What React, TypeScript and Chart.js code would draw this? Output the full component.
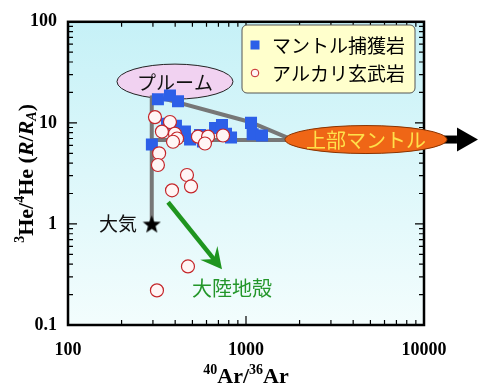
import React, { useEffect, useRef } from 'react';
import { Chart, registerables } from 'chart.js';
Chart.register(...registerables);

// ---------- data ----------
const xTickValues = [100, 1000, 10000];
const yTickValues = [0.1, 1, 10, 100];

// マントル捕獲岩 (mantle xenoliths)
const xenolithAr = [320, 374, 415, 296, 360, 404, 454, 485, 552, 573, 670, 733, 772, 824, 1067, 1090, 1230];
const xenolithHe = [17.1, 18.7, 16.4, 6.1, 9.8, 9.35, 8.2, 6.85, 7.6, 6.55, 8.9, 9.55, 7.8, 7.15, 10.0, 7.7, 7.5];

// アルカリ玄武岩 (alkali basalts)
const basaltAr = [308, 374, 337, 399, 410, 389, 537, 612, 588, 743, 325, 320, 466, 491, 384, 472, 316];
const basaltHe = [11.4, 10.2, 8.2, 7.8, 7.0, 6.5, 7.3, 7.3, 6.25, 7.5, 5.0, 3.83, 3.05, 2.35, 2.15, 0.38, 0.22];

// 大気 (atmosphere)
const atmosphereAr = [295.5];
const atmosphereHe = [1];

// mixing lines
const plumeAtmLineAr = [295.5, 295.5];
const plumeAtmLineHe = [1, 18.7];
const plumeMantleLineAr = [295.5, 1053, 1720];
const plumeMantleLineHe = [18.7, 10.2, 7.1];
const atmMantleLineAr = [295.5, 1720];
const atmMantleLineHe = [6.76, 6.76];

// text labels
const legendLabels = ['マントル捕獲岩', 'アルカリ玄武岩'];
const plumeLabel = 'プルーム';
const upperMantleLabel = '上部マントル';
const atmosphereLabel = '大気';
const crustLabel = '大陸地殻';

// annotation anchors (data coordinates)
const plumeCenter = [399, 25.6];
const upperMantleCenter = [4721, 6.84];
const arrowTip = [20100, 6.84];
const atmosphereTextPos = [244, 1];
const crustTextPos = [834, 0.229];
const crustArrowFrom = [365, 1.64];
const crustArrowTo = [733, 0.357];

const zip = (xs: number[], ys: number[]) => xs.map((x, i) => ({ x, y: ys[i] }));

const SERIF = '"Liberation Serif", "Times New Roman", serif';
const CJK = '"Noto Sans CJK JP", "Noto Sans", sans-serif';

function makeStar(size: number, color: string) {
  const c = document.createElement('canvas');
  c.width = size;
  c.height = size;
  const g = c.getContext('2d')!;
  const cx = size / 2, cy = size / 2 + size * 0.05, R = size / 2, r = R * 0.42;
  g.beginPath();
  for (let i = 0; i < 10; i++) {
    const a = -Math.PI / 2 + (i * Math.PI) / 5;
    const rad = i % 2 ? r : R;
    g.lineTo(cx + rad * Math.cos(a), cy + rad * Math.sin(a));
  }
  g.closePath();
  g.fillStyle = color;
  g.fill();
  return c;
}

type Run = { t: string; size: number; italic?: boolean; dy?: number };
function drawRuns(ctx: CanvasRenderingContext2D, runs: Run[], cx: number, baseline: number) {
  const fontOf = (r: Run) => `${r.italic ? 'italic ' : ''}bold ${r.size}px ${SERIF}`;
  let total = 0;
  for (const r of runs) { ctx.font = fontOf(r); total += ctx.measureText(r.t).width; }
  let x = cx - total / 2;
  ctx.textAlign = 'left';
  ctx.textBaseline = 'alphabetic';
  for (const r of runs) {
    ctx.font = fontOf(r);
    ctx.fillText(r.t, x, baseline + (r.dy || 0));
    x += ctx.measureText(r.t).width;
  }
}

const decorPlugin = {
  id: 'decor',
  beforeDraw(chart: any) {
    const { ctx, chartArea: a } = chart;
    ctx.save();
    ctx.fillStyle = '#ffffff';
    ctx.fillRect(0, 0, chart.width, chart.height);
    const g = ctx.createLinearGradient(0, a.top, 0, a.bottom);
    g.addColorStop(0, '#c6f1f7');
    g.addColorStop(1, '#f3fdfd');
    ctx.fillStyle = g;
    ctx.fillRect(a.left, a.top, a.right - a.left, a.bottom - a.top);
    ctx.restore();
  },
  beforeDatasetsDraw(chart: any) {
    const { ctx, chartArea: a, scales } = chart;
    const xs = scales.x, ys = scales.y;
    ctx.save();
    // plume ellipse
    const px = xs.getPixelForValue(plumeCenter[0]);
    const py = ys.getPixelForValue(plumeCenter[1]);
    ctx.beginPath();
    ctx.ellipse(px, py, 58, 17.5, 0, 0, Math.PI * 2);
    ctx.fillStyle = '#f1d2f1';
    ctx.fill();
    ctx.lineWidth = 1;
    ctx.strokeStyle = '#222';
    ctx.stroke();
    ctx.fillStyle = '#111';
    ctx.font = `19px ${CJK}`;
    ctx.textAlign = 'center';
    ctx.textBaseline = 'middle';
    ctx.fillText(plumeLabel, px, py + 1);

    // ticks (inward) on all 4 sides
    ctx.strokeStyle = '#000';
    ctx.lineWidth = 1.2;
    const minorLen = 5, majorLen = 9;
    const xMinor: number[] = [];
    for (const d of [100, 1000]) for (let k = 2; k <= 9; k++) xMinor.push(d * k);
    const yMinor: number[] = [];
    for (const d of [0.1, 1, 10]) for (let k = 2; k <= 9; k++) yMinor.push(+(d * k).toFixed(2));
    ctx.beginPath();
    const xTicks = [...xMinor.map((v) => [v, minorLen]), [1000, majorLen]];
    for (const [v, len] of xTicks) {
      const x = xs.getPixelForValue(v);
      ctx.moveTo(x, a.bottom); ctx.lineTo(x, a.bottom - len);
      ctx.moveTo(x, a.top); ctx.lineTo(x, a.top + len);
    }
    const yTicks = [...yMinor.map((v) => [v, minorLen]), [1, majorLen], [10, majorLen]];
    for (const [v, len] of yTicks) {
      const y = ys.getPixelForValue(v);
      ctx.moveTo(a.left, y); ctx.lineTo(a.left + len, y);
      ctx.moveTo(a.right, y); ctx.lineTo(a.right - len, y);
    }
    ctx.stroke();
    // frame
    ctx.lineWidth = 2.5;
    ctx.strokeRect(a.left, a.top, a.right - a.left, a.bottom - a.top);
    ctx.restore();
  },
  afterDatasetsDraw(chart: any) {
    const { ctx, chartArea: a, scales } = chart;
    const xs = scales.x, ys = scales.y;
    ctx.save();
    // upper mantle ellipse + black arrow
    const ux = xs.getPixelForValue(upperMantleCenter[0]);
    const uy = ys.getPixelForValue(upperMantleCenter[1]);
    const tipX = xs.getPixelForValue(arrowTip[0]);
    const tipY = ys.getPixelForValue(arrowTip[1]);
    ctx.fillStyle = '#000';
    ctx.fillRect(ux + 70, tipY - 4, tipX - 21 - (ux + 70), 8);
    ctx.beginPath();
    ctx.moveTo(tipX, tipY);
    ctx.lineTo(tipX - 21, tipY - 12);
    ctx.lineTo(tipX - 21, tipY + 12);
    ctx.closePath();
    ctx.fill();
    ctx.beginPath();
    ctx.ellipse(ux, uy, 81, 14, 0, 0, Math.PI * 2);
    ctx.fillStyle = '#ef6616';
    ctx.fill();
    ctx.lineWidth = 1;
    ctx.strokeStyle = '#8a3300';
    ctx.stroke();
    ctx.fillStyle = '#ffe04a';
    ctx.font = `20px ${CJK}`;
    ctx.textAlign = 'center';
    ctx.textBaseline = 'middle';
    ctx.fillText(upperMantleLabel, ux, uy + 1);

    // green arrow toward continental crust
    const sx = xs.getPixelForValue(crustArrowFrom[0]);
    const sy = ys.getPixelForValue(crustArrowFrom[1]);
    const ex = xs.getPixelForValue(crustArrowTo[0]);
    const ey = ys.getPixelForValue(crustArrowTo[1]);
    const L = Math.hypot(ex - sx, ey - sy);
    const dx = (ex - sx) / L, dy = (ey - sy) / L;
    const nx = -dy, ny = dx;
    ctx.strokeStyle = '#1f951f';
    ctx.fillStyle = '#1f951f';
    ctx.lineWidth = 4.5;
    ctx.beginPath();
    ctx.moveTo(sx, sy);
    ctx.lineTo(ex - dx * 12, ey - dy * 12);
    ctx.stroke();
    ctx.beginPath();
    ctx.moveTo(ex, ey);
    ctx.lineTo(ex - dx * 21 + nx * 11, ey - dy * 21 + ny * 11);
    ctx.lineTo(ex - dx * 13, ey - dy * 13);
    ctx.lineTo(ex - dx * 21 - nx * 11, ey - dy * 21 - ny * 11);
    ctx.closePath();
    ctx.fill();

    // text labels
    ctx.font = `20px ${CJK}`;
    ctx.fillStyle = '#23962a';
    ctx.textAlign = 'center';
    ctx.textBaseline = 'middle';
    ctx.fillText(crustLabel, xs.getPixelForValue(crustTextPos[0]), ys.getPixelForValue(crustTextPos[1]));
    ctx.font = `19px ${CJK}`;
    ctx.fillStyle = '#111';
    ctx.textAlign = 'right';
    ctx.fillText(atmosphereLabel, xs.getPixelForValue(atmosphereTextPos[0]), ys.getPixelForValue(atmosphereTextPos[1]));

    // legend box
    const lx = 242, ly = 25, lw = 173, lh = 68;
    ctx.beginPath();
    ctx.roundRect(lx, ly, lw, lh, 5);
    ctx.fillStyle = '#ffffcc';
    ctx.fill();
    ctx.lineWidth = 1;
    ctx.strokeStyle = '#555';
    ctx.stroke();
    const ds = chart.data.datasets;
    const entries = ds.filter((d: any) => legendLabels.includes(d.label));
    entries.forEach((d: any, i: number) => {
      const cy = ly + 20 + i * 28;
      const mx = lx + 13;
      if (d.pointStyle === 'rect') {
        ctx.fillStyle = d.backgroundColor;
        ctx.fillRect(mx - 4.5, cy - 4.5, 9, 9);
      } else {
        ctx.beginPath();
        ctx.arc(mx, cy, 3.8, 0, Math.PI * 2);
        ctx.fillStyle = d.backgroundColor;
        ctx.fill();
        ctx.lineWidth = 1;
        ctx.strokeStyle = d.borderColor;
        ctx.stroke();
      }
      ctx.fillStyle = '#000';
      ctx.font = `19px ${CJK}`;
      ctx.textAlign = 'left';
      ctx.textBaseline = 'middle';
      ctx.fillText(d.label, lx + 30, cy + 1);
    });

    // axis titles
    ctx.fillStyle = '#000';
    drawRuns(ctx, [
      { t: '40', size: 14, dy: -9 },
      { t: 'Ar/', size: 22 },
      { t: '36', size: 14, dy: -9 },
      { t: 'Ar', size: 22 },
    ], (a.left + a.right) / 2, 383);

    ctx.save();
    ctx.translate(33, (a.top + a.bottom) / 2);
    ctx.rotate(-Math.PI / 2);
    drawRuns(ctx, [
      { t: '3', size: 14, dy: -9 },
      { t: 'He/', size: 22 },
      { t: '4', size: 14, dy: -9 },
      { t: 'He (', size: 22 },
      { t: 'R', size: 22, italic: true },
      { t: '/', size: 22 },
      { t: 'R', size: 22, italic: true },
      { t: 'A', size: 14, italic: true, dy: 3 },
      { t: ')', size: 22 },
    ], 0, 0);
    ctx.restore();
    ctx.restore();
  },
};

export default function App() {
  const ref = useRef<HTMLCanvasElement | null>(null);
  useEffect(() => {
    if (!ref.current) return;
    const star = makeStar(19, '#000');
    const tickFont = { family: SERIF, size: 18, weight: 'bold' as const };
    const lineStyle = {
      showLine: true,
      borderColor: '#777777',
      borderWidth: 4,
      pointRadius: 0,
      pointHoverRadius: 0,
      fill: false,
      order: 5,
    };
    const chart = new Chart(ref.current, {
      type: 'scatter',
      data: {
        datasets: [
          { ...lineStyle, label: 'plume-atm', data: zip(plumeAtmLineAr, plumeAtmLineHe) },
          { ...lineStyle, label: 'plume-mantle', data: zip(plumeMantleLineAr, plumeMantleLineHe) },
          { ...lineStyle, label: 'atm-mantle', data: zip(atmMantleLineAr, atmMantleLineHe) },
          {
            label: legendLabels[0],
            data: zip(xenolithAr, xenolithHe),
            pointStyle: 'rect',
            pointRadius: 8.5,
            backgroundColor: '#2c5fe8',
            borderColor: '#2c5fe8',
            borderWidth: 0,
            order: 2,
          },
          {
            label: legendLabels[1],
            data: zip(basaltAr, basaltHe),
            pointStyle: 'circle',
            pointRadius: 6.5,
            backgroundColor: '#fff5f5',
            borderColor: '#c4262a',
            borderWidth: 1.2,
            order: 1,
          },
          {
            label: atmosphereLabel,
            data: zip(atmosphereAr, atmosphereHe),
            pointStyle: star as any,
            pointRadius: 9,
            order: 0,
          },
        ] as any,
      },
      options: {
        animation: false,
        responsive: false,
        events: [],
        layout: { padding: { top: 16, right: 61, left: 0, bottom: 0 } },
        plugins: { legend: { display: false }, tooltip: { enabled: false } },
        scales: {
          x: {
            type: 'logarithmic',
            min: 100,
            max: 10000,
            position: 'bottom',
            afterBuildTicks: (s: any) => { s.ticks = xTickValues.map((v) => ({ value: v })); },
            afterFit: (s: any) => { s.height = 63; },
            grid: { display: false, drawTicks: false },
            border: { display: false },
            ticks: { font: tickFont, color: '#000', padding: 15, maxRotation: 0, autoSkip: false, callback: (v: any) => String(v) },
          },
          y: {
            type: 'logarithmic',
            min: 0.1,
            max: 100,
            afterBuildTicks: (s: any) => { s.ticks = yTickValues.map((v) => ({ value: v })); },
            afterFit: (s: any) => { s.width = 68; },
            grid: { display: false, drawTicks: false },
            border: { display: false },
            ticks: { font: tickFont, color: '#000', padding: 11, autoSkip: false, callback: (v: any) => String(v) },
          },
        } as any,
      },
      plugins: [decorPlugin],
    });
    return () => chart.destroy();
  }, []);
  return (
    <div style={{ position: 'absolute', left: 0, top: 0, width: 485, height: 388, background: '#fff' }}>
      <canvas ref={ref} width={485} height={388} />
    </div>
  );
}
